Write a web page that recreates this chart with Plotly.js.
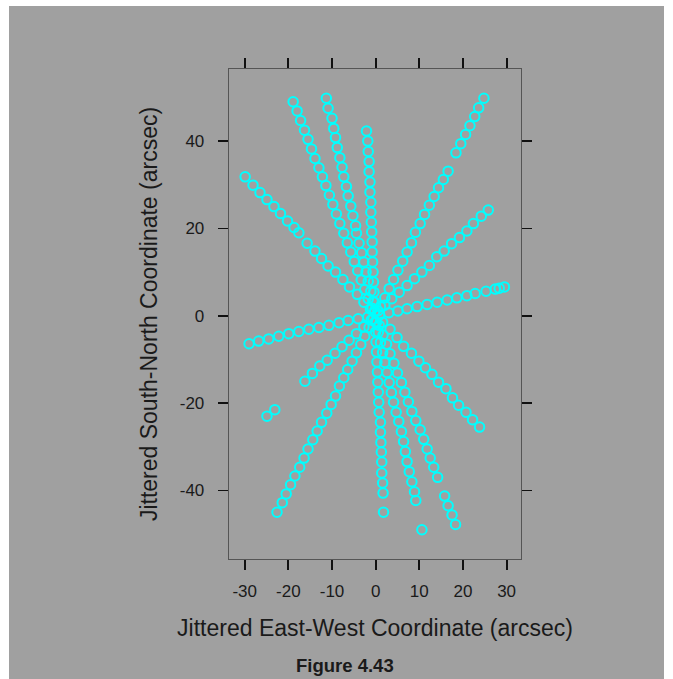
<!DOCTYPE html>
<html>
<head>
<meta charset="utf-8">
<script src="https://cdn.plot.ly/plotly-3.0.1.min.js"></script>
<style>
  html, body { margin: 0; padding: 0; background: #ffffff; }
  #chart { position: absolute; left: 9px; top: 6px; width: 655px; height: 673px; }
</style>
</head>
<body>
<div id="chart"></div>
<script>
// ---- Data (East-West, South-North in arcsec) ----
const rayNWshallow = [[-29.9,31.8],[-28.1,29.9],[-26.5,28.2],[-24.9,26.6],[-23.3,25.0],[-21.8,23.4],[-20.2,21.7],[-18.7,20.2],[-17.6,19.0],[-15.7,16.6],[-13.9,14.8],[-12.4,13.1],[-10.9,11.4],[-9.2,10.0],[-7.5,8.3],[-6.0,6.6],[-4.2,4.9],[-2.7,3.1],[-1.2,1.5]];
const rayNNW1 = [[-18.9,49.0],[-18.0,46.9],[-17.2,44.7],[-16.3,42.5],[-15.5,40.4],[-14.7,38.2],[-13.9,36.0],[-13.0,33.9],[-12.2,31.8],[-11.4,29.8],[-10.6,27.6],[-9.8,25.5],[-9.0,23.3],[-8.2,21.1],[-7.3,18.9],[-6.5,16.7],[-5.7,14.6],[-4.9,12.4],[-4.1,10.3],[-3.3,8.2],[-2.5,6.0],[-1.7,3.9],[-0.8,1.7]];
const rayNNW2 = [[-11.3,49.8],[-10.9,47.5],[-10.0,45.2],[-9.6,42.9],[-9.2,40.8],[-8.8,38.5],[-8.2,36.2],[-7.7,34.0],[-7.3,31.8],[-6.7,29.6],[-6.3,27.4],[-5.7,25.1],[-5.2,22.9],[-4.6,20.6],[-4.4,18.9],[-3.8,16.6],[-3.2,14.4],[-2.7,12.3],[-2.2,10.0],[-1.7,7.9],[-1.1,5.6],[-0.6,3.3],[-0.2,1.1]];
const rayNorth = [[-2.1,42.3],[-1.8,40.0],[-1.7,37.6],[-1.5,35.3],[-1.5,33.0],[-1.3,30.6],[-1.3,28.3],[-1.1,26.0],[-1.1,23.7],[-1.0,21.4],[-0.9,19.2],[-0.8,16.9],[-0.8,14.6],[-0.7,12.3],[-0.6,10.0],[-0.5,7.7],[-0.4,5.4],[-0.3,3.1],[-0.2,0.8]];
const rayNNEouter = [[24.8,49.8],[23.6,47.6],[22.7,45.6],[21.6,43.5],[20.6,41.5],[19.5,39.4],[18.4,37.3]];
const rayNNE = [[16.6,33.1],[15.5,31.2],[14.4,29.3],[13.4,27.3],[12.3,25.3],[11.2,23.2],[10.2,21.1],[9.1,19.1],[8.2,16.7],[7.2,14.6],[6.2,12.5],[5.1,10.4],[4.1,8.3],[3.1,6.2],[2.1,4.1],[1.1,2.1]];
const rayNE = [[25.8,24.2],[24.2,22.8],[22.4,21.1],[20.9,19.4],[19.2,17.9],[17.4,16.5],[15.7,14.8],[14.0,13.5],[12.3,11.5],[10.6,10.0],[8.9,8.5],[7.2,6.9],[5.4,5.4],[3.7,3.9],[2.1,2.4],[0.5,1.1]];
const rayEast = [[29.5,6.6],[28.3,6.3],[27.4,6.1],[25.3,5.6],[22.8,5.1],[20.9,4.6],[18.6,4.1],[16.4,3.6],[14.1,3.1],[11.8,2.6],[9.5,2.1],[7.2,1.6],[5.1,1.1],[3.0,0.7],[0.9,0.2]];
const rayWest = [[-29.0,-6.4],[-26.8,-5.8],[-24.5,-5.3],[-22.2,-4.7],[-19.9,-4.1],[-17.6,-3.6],[-15.3,-3.1],[-13.0,-2.7],[-10.7,-2.2],[-8.4,-1.6],[-6.3,-1.1],[-4.0,-0.7],[-1.8,-0.3]];
const raySW = [[-24.9,-23.0],[-23.1,-21.5],[-16.2,-15.0],[-14.5,-13.2],[-12.8,-11.5],[-11.1,-10.2],[-9.3,-8.6],[-7.7,-7.1],[-6.1,-5.6],[-4.4,-4.1],[-2.7,-2.5],[-1.0,-1.0]];
const raySSW = [[-22.6,-45.0],[-21.4,-42.8],[-20.5,-40.8],[-19.5,-38.7],[-18.5,-36.7],[-17.4,-34.7],[-16.4,-32.6],[-15.5,-30.5],[-14.4,-28.4],[-13.4,-26.4],[-12.4,-24.4],[-11.2,-22.3],[-10.2,-20.3],[-9.2,-18.4],[-8.3,-16.1],[-7.3,-14.2],[-6.4,-12.3],[-5.4,-10.4],[-4.4,-8.5],[-3.4,-6.6],[-2.5,-4.7],[-1.5,-2.7],[-0.6,-0.8]];
const raySouth = [[1.8,-45.0],[1.7,-40.6],[1.6,-38.3],[1.4,-36.0],[1.4,-33.5],[1.3,-31.2],[1.2,-29.0],[1.1,-26.7],[1.1,-24.4],[0.8,-22.1],[0.7,-19.8],[0.6,-17.5],[0.5,-15.2],[0.4,-12.9],[0.3,-10.6],[0.2,-8.3],[0.1,-6.0],[0.0,-3.7],[-0.1,-1.4]];
const raySSE1 = [[9.2,-42.3],[8.9,-40.3],[8.3,-38.0],[7.7,-35.7],[7.2,-33.4],[6.8,-31.1],[6.4,-28.8],[5.9,-26.5],[5.3,-24.2],[4.7,-22.1],[4.1,-19.8],[3.6,-17.6],[3.1,-15.3],[2.6,-13.0],[2.1,-10.7],[1.6,-8.4],[1.1,-6.1],[0.6,-3.8],[0.2,-1.5]];
const raySSE2 = [[10.6,-49.0],[18.3,-47.8],[17.5,-45.6],[16.6,-43.5],[15.8,-41.3],[14.2,-37.0],[13.3,-34.7],[12.5,-32.6],[11.8,-30.5],[11.0,-28.3],[10.2,-26.1],[9.2,-24.0],[8.3,-21.9],[7.5,-19.7],[6.7,-17.5],[5.9,-15.3],[5.0,-13.1],[4.2,-10.9],[3.3,-8.7],[2.5,-6.5],[1.7,-4.4],[0.8,-2.2]];
const raySE = [[23.8,-25.5],[22.2,-23.8],[20.7,-22.1],[19.0,-20.5],[17.6,-18.8],[16.1,-16.7],[14.4,-15.2],[12.9,-13.4],[11.4,-11.9],[9.9,-10.4],[8.2,-8.6],[6.4,-7.0],[4.9,-5.0],[3.3,-3.1],[1.6,-1.5]];

const xTickVals = [-30, -20, -10, 0, 10, 20, 30];
const xTickText = ["-30", "-20", "-10", "0", "10", "20", "30"];
const yTickVals = [-40, -20, 0, 20, 40];
const yTickText = ["-40", "-20", "0", "20", "40"];
const xTitle = "Jittered East-West Coordinate (arcsec)";
const yTitle = "Jittered South-North Coordinate (arcsec)";
const caption = "Figure 4.43";

const allPoints = [].concat(rayNWshallow, rayNNW1, rayNNW2, rayNorth, rayNNEouter, rayNNE, rayNE,
  rayEast, rayWest, raySW, raySSW, raySouth, raySSE1, raySSE2, raySE);

const trace = {
  type: 'scatter',
  mode: 'markers',
  x: allPoints.map(p => p[0]),
  y: allPoints.map(p => p[1]),
  marker: { symbol: 'circle-open', size: 9.5, color: '#00ffff', line: { width: 2, color: '#00ffff' } },
  hoverinfo: 'x+y'
};

const fontFam = 'Liberation Sans, Arial, Helvetica, sans-serif';
const bg = '#a0a0a0';

const layout = {
  width: 655, height: 673,
  paper_bgcolor: bg, plot_bgcolor: bg,
  margin: { l: 220, r: 143, t: 63, b: 120 },
  showlegend: false,
  font: { family: fontFam, color: '#1a1a1a' },
  xaxis: {
    range: [-33.6, 33.3], tickvals: xTickVals, ticktext: xTickText,
    ticks: 'outside', ticklen: 10, tickwidth: 1.8, tickcolor: '#111111',
    showline: true, linecolor: '#555555', linewidth: 1.3, mirror: 'ticks',
    showgrid: false, zeroline: false, ticklabelstandoff: 6,
    tickfont: { size: 17, color: '#1a1a1a', family: fontFam },
    title: { text: xTitle, font: { size: 23, color: '#1a1a1a', family: fontFam }, standoff: 20 }
  },
  yaxis: {
    range: [-55.7, 56.5], tickvals: yTickVals, ticktext: yTickText,
    ticks: 'outside', ticklen: 10, tickwidth: 1.8, tickcolor: '#111111',
    showline: true, linecolor: '#555555', linewidth: 1.3, mirror: 'ticks',
    showgrid: false, zeroline: false, ticklabelstandoff: 10,
    tickfont: { size: 17, color: '#1a1a1a', family: fontFam },
    title: { text: yTitle, font: { size: 23, color: '#1a1a1a', family: fontFam }, standoff: 15 }
  },
  annotations: [{
    text: '<b>' + caption + '</b>', xref: 'paper', yref: 'paper',
    x: 0.397, y: -0.2165, xanchor: 'center', yanchor: 'middle', showarrow: false,
    font: { size: 18.5, color: '#1a1a1a', family: fontFam }
  }]
};

Plotly.newPlot('chart', [trace], layout, { displayModeBar: false, staticPlot: true });
</script>
</body>
</html>
